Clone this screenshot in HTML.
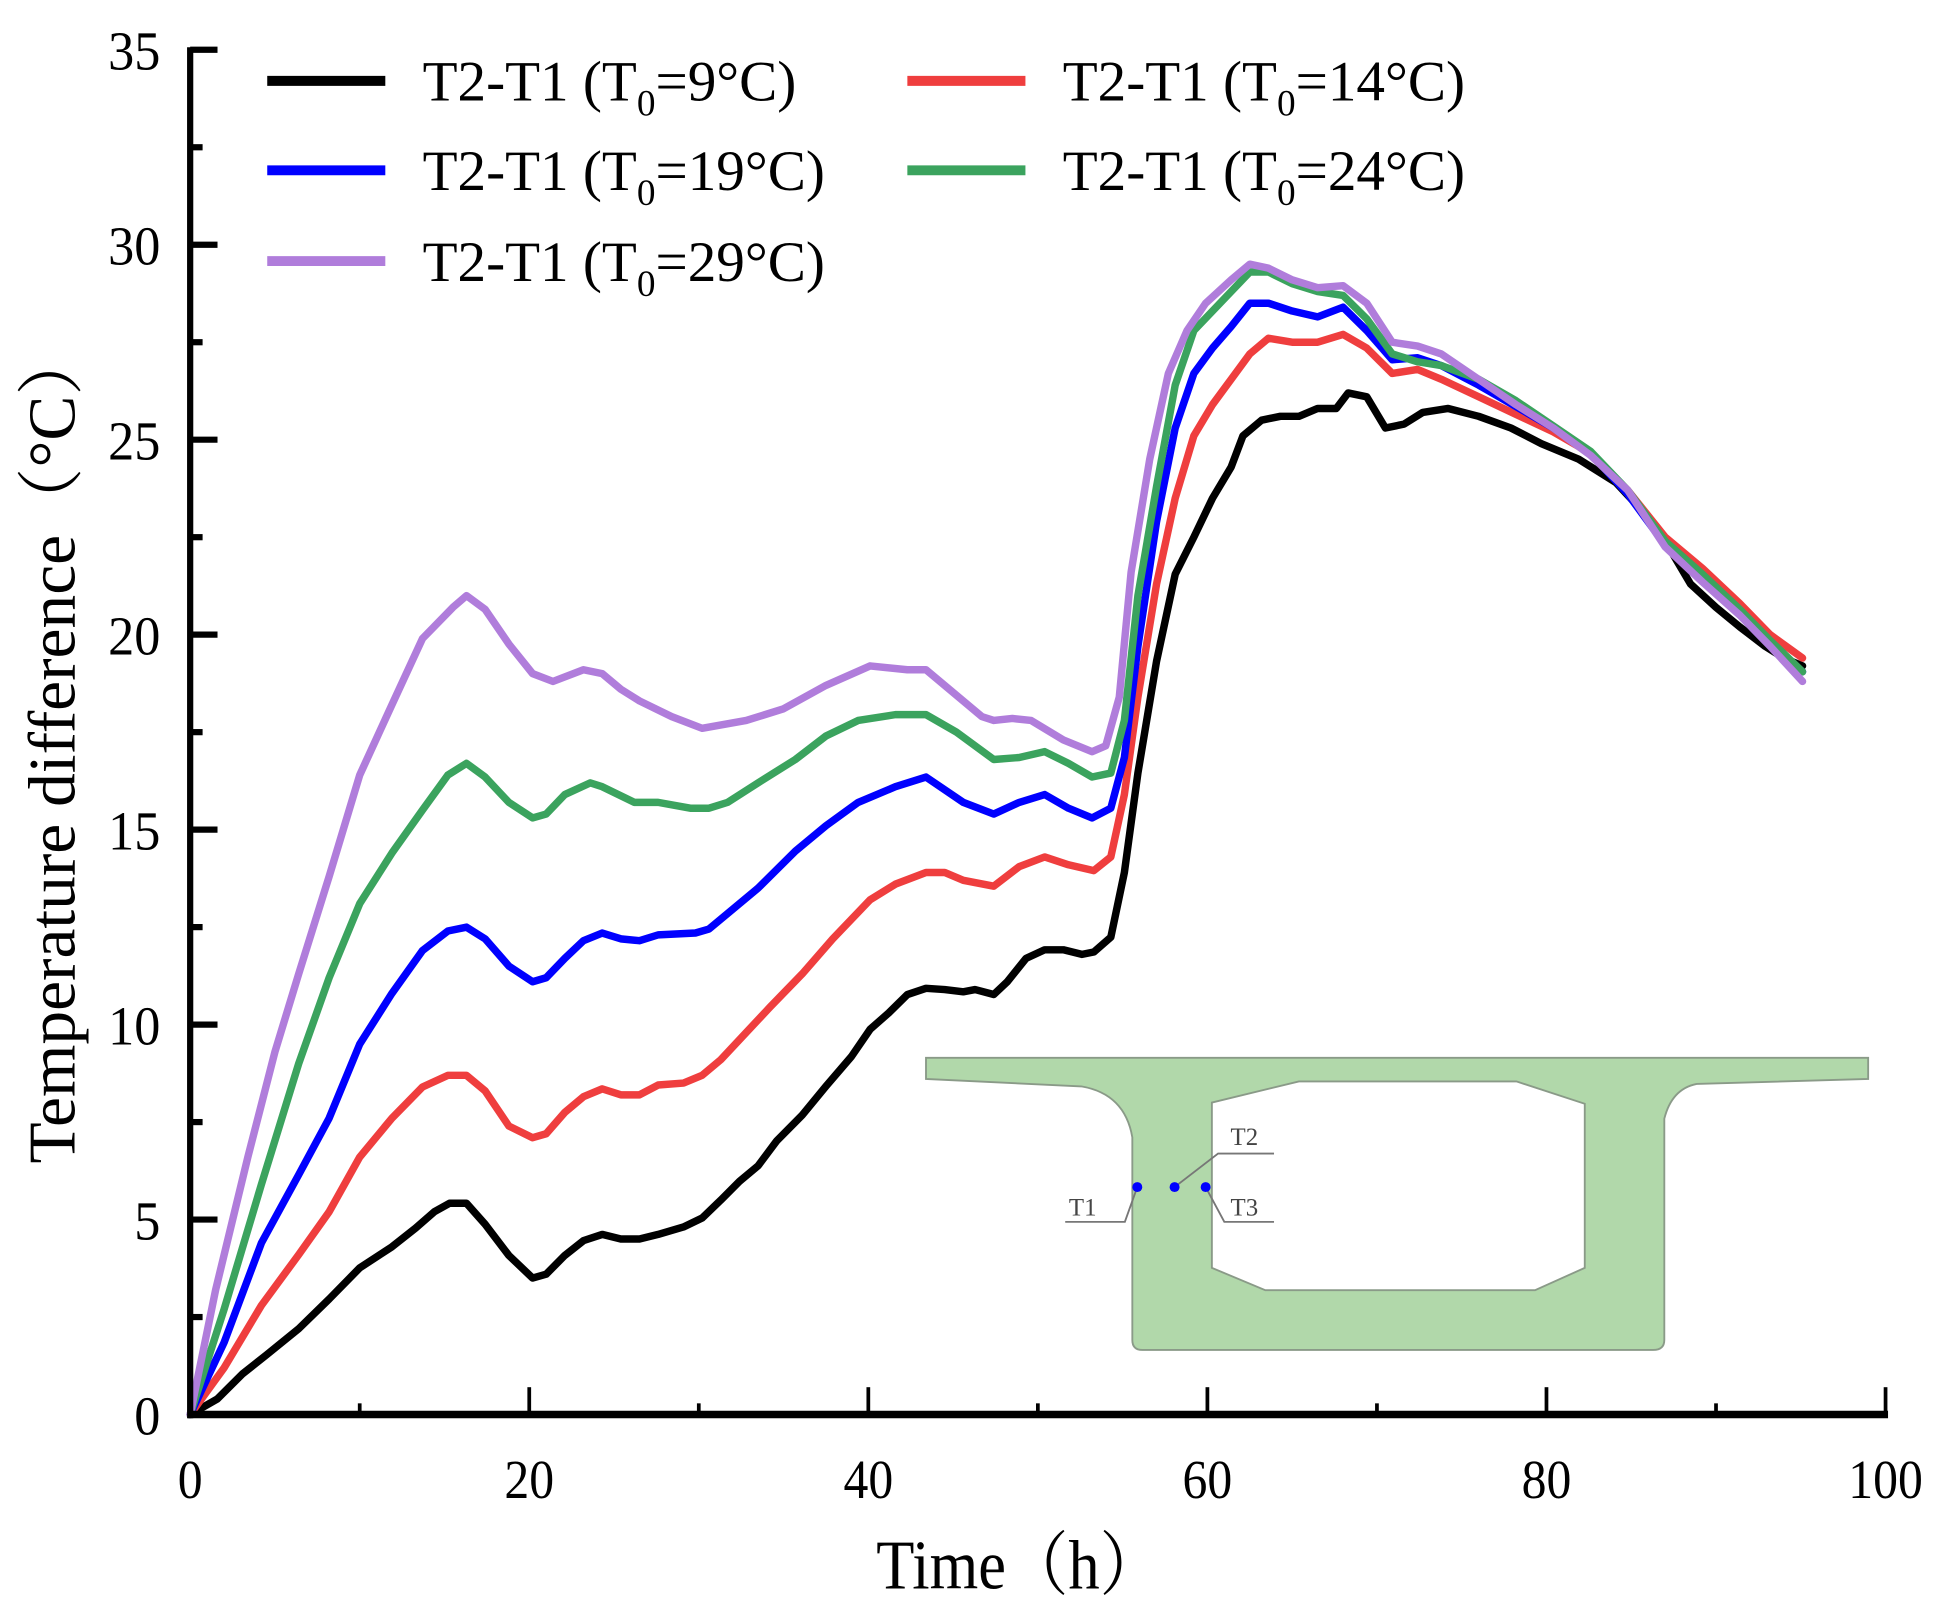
<!DOCTYPE html>
<html><head><meta charset="utf-8"><style>
html,body{margin:0;padding:0;background:#fff}
svg{display:block}
text{font-family:"Liberation Serif","Noto Serif CJK SC",serif;fill:#000}
</style></head><body>
<svg id="chart" width="1939" height="1606" viewBox="0 0 1560 1292" xmlns="http://www.w3.org/2000/svg">
<g id="inset">
<path d="M745,851 L1503,851 L1503,868 L1365,872 Q1345,876 1339,900 L1339,1078 Q1339,1086 1330,1086 L919,1086 Q911,1086 911,1078 L911,915 Q905,880 870,874 L745,868 Z" fill="#b1d8aa" stroke="#8a9a88" stroke-width="1.5"/>
<path d="M975,887 L1045,870 L1220,870 L1275,888 L1275,1020 L1235,1038 L1018,1038 L975,1020 Z" fill="#fff" stroke="#8a9a88" stroke-width="1.5"/>
<g stroke="#777" stroke-width="1.5" fill="none">
<polyline points="915,955 905,983 857,983"/>
<polyline points="945,955 980,928 1025,928"/>
<polyline points="970,955 985,983 1025,983"/>
</g>
<circle cx="915" cy="955" r="4" fill="#0000ff"/>
<circle cx="945" cy="955" r="4" fill="#0000ff"/>
<circle cx="970" cy="955" r="4" fill="#0000ff"/>
<text x="860" y="978" font-size="20" style="fill:#444">T1</text>
<text x="990" y="921" font-size="20" style="fill:#444">T2</text>
<text x="990" y="978" font-size="20" style="fill:#444">T3</text>
</g>
<g id="series"></g>
<g id="axes"></g>
<g id="legend"></g>
<text x="705" y="1278" font-size="56" textLength="230" lengthAdjust="spacingAndGlyphs">Time（h）</text>
<text transform="translate(60,600) rotate(-90)" text-anchor="middle" font-size="54" textLength="672" lengthAdjust="spacingAndGlyphs">Temperature difference（°C）</text>
</svg>
<script>
const xTicks = [0,20,40,60,80,100];
const yTicks = [0,5,10,15,20,25,30,35];
const seriesNames = ["T0=9°C","T0=14°C","T0=19°C","T0=24°C","T0=29°C"];

const tBlack = [0,1.6,3.1,4.5,6.4,8.2,10.0,11.9,13.3,14.4,15.3,16.3,17.4,18.8,20.2,21.0,22.1,23.2,24.3,25.4,26.5,27.6,29.1,30.2,31.3,32.4,33.5,34.6,36.1,37.5,39.0,40.1,41.2,42.3,43.4,44.5,45.6,46.3,47.4,48.2,49.3,50.4,51.5,52.6,53.3,54.3,55.1,55.9,57.0,58.1,59.2,60.3,61.4,62.1,63.2,64.3,65.4,66.5,67.6,68.3,69.4,70.5,71.6,72.7,74.2,76.0,77.9,79.7,81.9,84.1,85.6,87.0,88.5,90.0,91.4,92.9,94.0,95.1];
const vBlack = [0,0.4,1.05,1.53,2.2,2.96,3.76,4.3,4.78,5.2,5.42,5.42,4.88,4.08,3.5,3.6,4.08,4.46,4.62,4.5,4.5,4.62,4.81,5.04,5.5,5.98,6.38,7.02,7.68,8.42,9.18,9.88,10.3,10.77,10.93,10.9,10.84,10.9,10.77,11.1,11.7,11.92,11.92,11.8,11.86,12.24,13.9,16.45,19.32,21.55,22.5,23.5,24.3,25.1,25.5,25.6,25.6,25.8,25.8,26.2,26.1,25.3,25.4,25.7,25.8,25.6,25.3,24.9,24.5,23.9,23.2,22.4,21.3,20.7,20.2,19.7,19.4,19.2];

const tRed = [0,2.0,4.2,6.4,8.2,10.0,11.9,13.7,15.2,16.3,17.4,18.8,20.2,21.0,22.1,23.2,24.3,25.4,26.5,27.6,29.1,30.2,31.3,32.8,34.2,36.1,37.9,40.1,41.6,43.4,44.5,45.6,47.4,48.9,50.4,51.8,53.3,54.3,55.1,55.9,57.0,58.1,59.2,60.3,61.4,62.5,63.6,65.0,66.5,68.0,69.4,70.9,72.4,73.8,76.0,78.2,80.4,82.6,84.8,87.0,89.2,91.4,93.2,95.1];
const vRed = [0,1.2,2.8,4.1,5.2,6.6,7.6,8.4,8.7,8.7,8.3,7.4,7.1,7.2,7.75,8.15,8.35,8.2,8.2,8.45,8.5,8.7,9.1,9.8,10.45,11.3,12.2,13.2,13.6,13.9,13.9,13.7,13.55,14.05,14.3,14.1,13.95,14.3,15.9,18.4,21.3,23.5,25.1,25.9,26.55,27.2,27.6,27.5,27.5,27.7,27.35,26.7,26.8,26.55,26.1,25.65,25.2,24.65,23.7,22.5,21.7,20.8,20.0,19.4];

const tBlue = [0,2.0,4.2,6.4,8.2,10.0,11.9,13.7,15.2,16.3,17.4,18.8,20.2,21.0,22.1,23.2,24.3,25.4,26.5,27.6,29.8,30.6,31.7,33.5,35.7,37.5,39.4,41.6,43.4,45.6,47.4,48.9,50.4,51.8,53.2,54.3,55.1,55.9,57.0,58.1,59.2,60.3,61.4,62.5,63.6,65.0,66.5,68.0,69.4,70.9,72.4,73.8,76.0,78.2,80.4,82.6,84.8,87.0,89.2,91.4,93.2,95.1];
const vBlue = [0,1.85,4.4,6.15,7.6,9.5,10.8,11.9,12.4,12.5,12.2,11.5,11.1,11.2,11.7,12.15,12.35,12.2,12.15,12.3,12.35,12.45,12.85,13.5,14.45,15.1,15.7,16.1,16.35,15.7,15.4,15.7,15.9,15.55,15.3,15.55,16.85,19.7,22.9,25.3,26.7,27.35,27.9,28.5,28.5,28.3,28.15,28.4,27.8,27.05,27.1,26.9,26.4,25.85,25.3,24.65,23.6,22.3,21.45,20.6,19.75,19.05];

const tGreen = [0,2.0,4.2,6.4,8.2,10.0,11.9,13.7,15.2,16.3,17.4,18.8,20.2,21.0,22.1,23.6,24.3,26.2,27.6,29.5,30.6,31.7,33.5,35.7,37.5,39.4,41.6,43.4,45.2,47.4,48.9,50.4,51.8,53.2,54.3,55.1,55.9,57.0,58.1,59.2,60.3,61.4,62.5,63.6,65.0,66.5,68.0,69.4,70.9,72.4,73.8,76.0,78.2,80.4,82.6,84.8,87.0,89.2,91.4,93.2,95.1];
const vGreen = [0,2.7,5.9,9.0,11.2,13.1,14.4,15.5,16.4,16.7,16.35,15.7,15.3,15.4,15.9,16.2,16.1,15.7,15.7,15.55,15.55,15.7,16.2,16.8,17.4,17.8,17.95,17.95,17.5,16.8,16.85,17.0,16.7,16.35,16.45,17.8,21.0,23.8,26.4,27.8,28.3,28.8,29.3,29.3,29.0,28.8,28.7,28.1,27.2,27.0,26.9,26.55,26.0,25.35,24.7,23.7,22.4,21.55,20.65,19.85,19.05];

const tPurple = [0,1.5,3.4,5.0,6.4,8.2,10.0,11.9,13.7,15.5,16.3,17.4,18.8,20.2,21.4,23.2,24.3,25.4,26.5,28.4,30.2,32.8,35.0,37.5,40.1,42.3,43.4,44.5,45.6,46.7,47.4,48.5,49.6,51.5,53.2,54.0,54.8,55.5,56.6,57.7,58.8,59.9,61.4,62.5,63.6,65.0,66.5,68.0,69.4,70.9,72.4,73.8,76.0,78.2,80.4,82.6,84.8,87.0,89.2,91.4,93.2,95.1];
const vPurple = [0,3.2,6.6,9.3,11.3,13.8,16.4,18.2,19.9,20.7,21.0,20.65,19.76,19.0,18.8,19.1,19.0,18.6,18.3,17.9,17.6,17.8,18.1,18.7,19.2,19.1,19.1,18.7,18.3,17.9,17.8,17.85,17.8,17.3,17.0,17.15,18.4,21.6,24.5,26.7,27.8,28.5,29.1,29.5,29.4,29.1,28.9,28.95,28.5,27.5,27.4,27.2,26.55,25.9,25.3,24.6,23.7,22.25,21.35,20.5,19.7,18.8];

const NS = "http://www.w3.org/2000/svg";
const X0 = 153, X1 = 1517, Y0 = 1138, Y1 = 40;
function xs(t){ return X0 + (t/100)*(X1-X0); }
function ys(v){ return Y0 - (v/35)*(Y0-Y1); }
function mk(tag, attrs, parent){ const e=document.createElementNS(NS,tag); for(const k in attrs) e.setAttribute(k,attrs[k]); parent.appendChild(e); return e; }

const colors = ["#000000","#ef3e3e","#0000ff","#3ba35e","#b07ddb"];
const allT = [tBlack,tRed,tBlue,tGreen,tPurple];
const allV = [vBlack,vRed,vBlue,vGreen,vPurple];
const seriesKeys = ["black","red","blue","green","purple"];
const sg = document.getElementById("series");
for (let i=0;i<5;i++){
  const pts = allT[i].map((t,j)=>xs(t).toFixed(1)+","+ys(allV[i][j]).toFixed(1)).join(" ");
  const pl = mk("polyline",{points:pts,fill:"none",stroke:colors[i],"stroke-width":6,"stroke-linejoin":"round","stroke-linecap":"round"},sg);
  
  
}

const ag = document.getElementById("axes");
const xa = mk("line",{x1:X0-2,y1:Y0,x2:X1+2,y2:Y0,stroke:"#000","stroke-width":6},ag);


const ya = mk("line",{x1:X0,y1:Y0+3,x2:X0,y2:Y1-2,stroke:"#000","stroke-width":5},ag);


for (let t=0;t<=100;t+=10){
  const major = t%20===0;
  const tk = mk("line",{x1:xs(t),y1:Y0,x2:xs(t),y2:Y0-(major?22:9),stroke:"#000","stroke-width":3},ag);
  
  
}
xTicks.forEach(t=>{
  const s=String(t);
  const tx = mk("text",{x:xs(t),y:1205,"text-anchor":"middle","font-size":44,textLength:s.length*20,lengthAdjust:"spacingAndGlyphs"},ag);
  tx.textContent=s;
  
  
});
for (let v=0;v<=35;v+=2.5){
  const major = v%5===0;
  const tk = mk("line",{x1:X0,y1:ys(v),x2:X0+(major?22:10),y2:ys(v),stroke:"#000","stroke-width":5},ag);
  
  
}
yTicks.forEach(v=>{
  const s=String(v);
  const tx = mk("text",{x:129,y:ys(v)+16,"text-anchor":"end","font-size":44,textLength:s.length*21,lengthAdjust:"spacingAndGlyphs"},ag);
  tx.textContent=s;
  
  
});

const lg = document.getElementById("legend");
const legendPos = [[215,65],[730,65],[215,137],[730,137],[215,210]];
const legendNums = ["9","14","19","24","29"];
for (let i=0;i<5;i++){
  const [lx,ly]=legendPos[i];
  const ln = mk("line",{x1:lx,y1:ly,x2:lx+95,y2:ly,stroke:colors[i],"stroke-width":8},lg);
  
  
  const tx = mk("text",{x:lx+125,y:ly+16,"font-size":46},lg);
  
  
  const a = mk("tspan",{},tx); a.textContent="T2-T1 (T";
  const b = mk("tspan",{dy:12,"font-size":30},tx); b.textContent="0";
  const c = mk("tspan",{dy:-12},tx); c.textContent="="+legendNums[i]+"°C)";
}
</script>
</body></html>
